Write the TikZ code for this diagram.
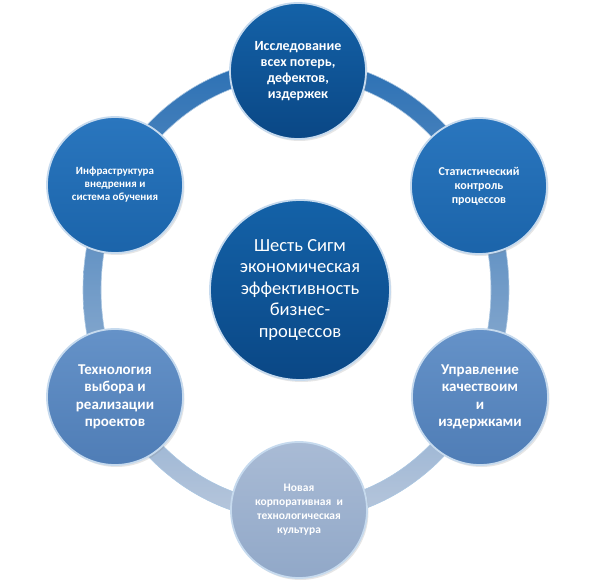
\documentclass[tikz,border=0pt]{standalone}
\usepackage{fontspec}
\setmainfont{Carlito}
\usepackage{xcolor}
\usepackage{tikz}
\usetikzlibrary{shadows}

\definecolor{ringtop}{HTML}{2B70B4}
\definecolor{ringbot}{HTML}{B8C7DC}
\definecolor{rim}{HTML}{C6DAEE}
\definecolor{navy}{HTML}{1462A8}
\definecolor{navyd}{HTML}{0A4785}
\definecolor{mid}{HTML}{2A76BE}
\definecolor{midd}{HTML}{1B64AA}
\definecolor{steel}{HTML}{6592C8}
\definecolor{steeld}{HTML}{4F7DB6}
\definecolor{pale}{HTML}{A9BBD5}
\definecolor{paled}{HTML}{91A8C8}

\begin{document}
\begin{tikzpicture}[x=1pt, y=1pt]
		\tikzstyle{bubble} = [circle, draw=rim, line width=1.8pt, inner sep=0pt, minimum size=136pt, align=center, text=white, drop shadow={shadow xshift=1.5pt, shadow yshift=-2pt, opacity=0.2}]
		\tikzstyle{hub} = [bubble, minimum size=180pt, top color=navy, bottom color=navyd, font=\fontsize{18.5}{21.5}\selectfont]
		
		\useasboundingbox (0, 0) rectangle (600, 582);
		
		% ring behind the circles
		\path[even odd rule, top color=ringtop, bottom color=ringbot, draw=white!60!ringtop, line width=0.6pt]
		(296, 292) ellipse [x radius=213, y radius=231]
		(296, 292) ellipse [x radius=195, y radius=213];
		
		\node[bubble, top color=navy, bottom color=navyd, font=\bfseries\fontsize{14}{16}\selectfont] 	at (298, 511)	(loss) 	{Исследование\\всех потерь,\\дефектов,\\издержек};
		\node[bubble, top color=mid, bottom color=midd, font=\bfseries\fontsize{12}{14}\selectfont] 	at (479, 396)	(stat) 	{Статистический\\контроль\\процессов};
		\node[bubble, top color=steel, bottom color=steeld, font=\bfseries\fontsize{15}{17.5}\selectfont] 	at (480, 185)	(qual) 	{Управление\\качествоим\\и\\издержками};
		\node[bubble, top color=pale, bottom color=paled, font=\bfseries\fontsize{11.5}{14}\selectfont] 	at (299, 72)	(cult) 	{Новая\\корпоративная~~и\\технологическая\\культура};
		\node[bubble, top color=steel, bottom color=steeld, font=\bfseries\fontsize{15}{17.5}\selectfont] 	at (115, 185)	(proj) 	{Технология\\выбора и\\реализации\\проектов};
		\node[bubble, top color=mid, bottom color=midd, font=\bfseries\fontsize{11}{13}\selectfont] 	at (115, 397)	(infra) 	{Инфраструктура\\внедрения и\\система обучения};
		
		\node[hub] 	at (300, 292)	(six) 	{Шесть Сигм\\экономическая\\эффективность\\бизнес-\\процессов};
	\end{tikzpicture}
\end{document}
